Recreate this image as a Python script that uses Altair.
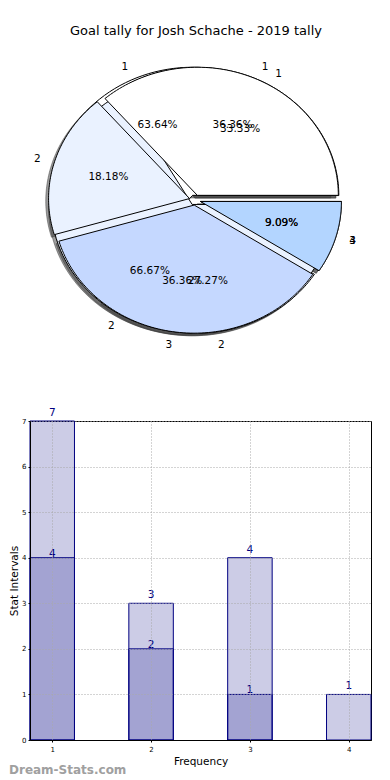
import altair as alt
import pandas as pd

TITLE = "Goal tally for Josh Schache - 2019 tally"

# pie data (three pies drawn on top of each other, pie 1 on top)
pie1_labels = ["1", "2", "3", "4"]
pie1_values = [4, 2, 4, 1]
pie2_labels = ["1", "2", "3"]
pie2_values = [7, 3, 1]
pie3_labels = ["1", "2"]
pie3_values = [1, 2]

# bar data
bar_x = [1, 2, 3, 4]
bar_outer = [7, 3, 4, 1]
bar_x_inner = [1, 2, 3]
bar_inner = [4, 2, 1]
x_ticks = [1, 2, 3, 4]
y_ticks = [0, 1, 2, 3, 4, 5, 6, 7]

x_title = "Frequency"
y_title = "Stat Intervals"
watermark = "Dream-Stats.com"

# style / layout
wedge_colors = ["#ffffff", "#eaf2ff", "#c5d8ff", "#b3d5ff"]
FONT = "DejaVu Sans"
PLOT_LEFT = 29
W = 370 - PLOT_LEFT
PIE_H = 380
BAR_H = 319
CX = 194 - PLOT_LEFT
CY = 199 - 8
RX, RY = 141.0, 128.1
EXPLODE = 0.04
NPTS = 90
BAR_W = 0.45

x_dom = [-CX / RX, (W - CX) / RX]
y_dom = [-(PIE_H - CY) / RY, CY / RY]
xs = alt.Scale(domain=x_dom, nice=False, zero=False)
ys = alt.Scale(domain=y_dom, nice=False, zero=False)
fill_scale = alt.Scale(domain=["1", "2", "3", "4"], range=wedge_colors)


def pie_base(labels, values):
    df = pd.DataFrame({"label": labels, "value": values})
    return (
        alt.Chart(df)
        .transform_joinaggregate(total="sum(value)")
        .transform_window(cum="sum(value)", sort=[alt.SortField("label", order="ascending")])
        .transform_calculate(a0="2 * PI * (datum.cum - datum.value) / datum.total")
        .transform_calculate(a1="2 * PI * datum.cum / datum.total")
        .transform_calculate(am="(datum.a0 + datum.a1) / 2")
        .transform_calculate(ex=f"{EXPLODE} * cos(datum.am)")
        .transform_calculate(ey=f"{EXPLODE} * sin(datum.am)")
        .transform_calculate(pct="format(100 * datum.value / datum.total, '.2f') + '%'")
    )


def wedge_points(base):
    return (
        base.transform_calculate(seq=f"sequence(0, {NPTS + 2})")
        .transform_flatten(["seq"])
        .transform_calculate(edge=f"datum.seq == 0 || datum.seq == {NPTS + 1}")
        .transform_calculate(ang=f"datum.a0 + (datum.a1 - datum.a0) * (datum.seq - 1) / {NPTS - 1}")
        .transform_calculate(px="datum.ex + (datum.edge ? 0 : cos(datum.ang))")
        .transform_calculate(py="datum.ey + (datum.edge ? 0 : sin(datum.ang))")
    )


def wedge_layer(base):
    return wedge_points(base).mark_line(stroke="black", strokeWidth=1).encode(
        x=alt.X("px:Q", scale=xs, axis=None),
        y=alt.Y("py:Q", scale=ys, axis=None),
        order=alt.Order("seq:Q"),
        fill=alt.Fill("label:N", scale=fill_scale, legend=None),
        detail="label:N",
    )


def shadow_layer(base):
    return (
        wedge_points(base)
        .transform_calculate(sx="datum.px - 0.02", sy="datum.py - 0.02")
        .mark_line(fill="#3c3c3c", fillOpacity=0.5, stroke="#3c3c3c", strokeOpacity=0.5, strokeWidth=1)
        .encode(
            x=alt.X("sx:Q", scale=xs, axis=None),
            y=alt.Y("sy:Q", scale=ys, axis=None),
            order=alt.Order("seq:Q"),
            detail="label:N",
        )
    )


def text_layers(base):
    b = (
        base.transform_calculate(tx="datum.ex + 1.1 * cos(datum.am)")
        .transform_calculate(ty="datum.ey + 1.1 * sin(datum.am)")
        .transform_calculate(qx="datum.ex + 0.6 * cos(datum.am)")
        .transform_calculate(qy="datum.ey + 0.6 * sin(datum.am)")
    )
    common = dict(font=FONT, fontSize=10.5, color="black", baseline="middle")
    right = b.transform_filter("datum.tx > 0").mark_text(align="left", **common).encode(
        x=alt.X("tx:Q", scale=xs, axis=None), y=alt.Y("ty:Q", scale=ys, axis=None), text="label:N")
    left = b.transform_filter("datum.tx <= 0").mark_text(align="right", **common).encode(
        x=alt.X("tx:Q", scale=xs, axis=None), y=alt.Y("ty:Q", scale=ys, axis=None), text="label:N")
    pct = b.mark_text(align="center", **common).encode(
        x=alt.X("qx:Q", scale=xs, axis=None), y=alt.Y("qy:Q", scale=ys, axis=None), text="pct:N")
    return [right, left, pct]


p1 = pie_base(pie1_labels, pie1_values)
p2 = pie_base(pie2_labels, pie2_values)
p3 = pie_base(pie3_labels, pie3_values)

title_mark = alt.Chart(pd.DataFrame({"t": [TITLE]})).mark_text(
    font=FONT, fontSize=13, color="black", align="center", baseline="middle"
).encode(x=alt.value(195 - PLOT_LEFT), y=alt.value(30 - 8), text="t:N")

pie = alt.layer(
    shadow_layer(p2), shadow_layer(p3), shadow_layer(p1),
    wedge_layer(p2), wedge_layer(p3), wedge_layer(p1),
    *text_layers(p2), *text_layers(p3), *text_layers(p1),
    title_mark,
).properties(width=W, height=PIE_H, view=alt.ViewBackground(stroke="transparent"))

# ---------------- bar chart ----------------
df_outer = pd.DataFrame({"cat": bar_x, "value": bar_outer})
df_inner = pd.DataFrame({"cat": bar_x_inner, "value": bar_inner})

bx = alt.Scale(domain=[min(bar_x) - BAR_W / 2, max(bar_x) + BAR_W / 2], nice=False, zero=False)
by = alt.Scale(domain=[0, 7], nice=False)

x_axis = alt.Axis(values=x_ticks, format="d", labelFontSize=7, labelFont=FONT, labelColor="black",
                  titleFont=FONT, titleFontSize=10.5, titleFontWeight="normal", titleColor="black",
                  grid=True, gridColor="#a8a8a8", gridDash=[1, 2], domainColor="black",
                  tickColor="black", tickSize=2, labelPadding=3, titlePadding=4, zindex=1)
y_axis = alt.Axis(values=y_ticks, format="d", labelFontSize=7, labelFont=FONT, labelColor="black",
                  titleFont=FONT, titleFontSize=10.5, titleFontWeight="normal", titleColor="black",
                  grid=True, gridColor="#a8a8a8", gridDash=[1, 2], domainColor="black",
                  tickColor="black", tickSize=2, labelPadding=2, titlePadding=2, zindex=1)


def bar_layer(df):
    return (
        alt.Chart(df)
        .transform_calculate(x0=f"datum.cat - {BAR_W / 2}", x1=f"datum.cat + {BAR_W / 2}", base="0")
        .mark_bar(fill="navy", fillOpacity=0.2, stroke="navy", strokeWidth=1)
        .encode(
            x=alt.X("x0:Q", scale=bx, axis=x_axis, title=x_title),
            x2="x1:Q",
            y=alt.Y("value:Q", scale=by, axis=y_axis, title=y_title),
            y2="base:Q",
        )
    )


def bar_text(df, dy):
    return alt.Chart(df).mark_text(
        color="navy", font=FONT, fontSize=10.5, baseline="alphabetic", align="center", dy=dy
    ).encode(
        x=alt.X("cat:Q", scale=bx, title=x_title),
        y=alt.Y("value:Q", scale=by, title=y_title),
        text="value:Q",
    )


wm = alt.Chart(pd.DataFrame({"t": [watermark]})).mark_text(
    font=FONT, fontSize=12, color="#a0a0a0", align="left", baseline="middle", fontWeight="bold"
).encode(x=alt.value(-(PLOT_LEFT - 8)), y=alt.value(BAR_H + 30), text="t:N")

bars = alt.layer(
    bar_layer(df_outer), bar_layer(df_inner), bar_text(df_outer, -5), bar_text(df_inner, -1), wm
).properties(width=W, height=BAR_H, view=alt.ViewBackground(stroke="black", strokeWidth=1))

chart = alt.vconcat(pie, bars, spacing=17).properties(
    padding={"left": 0, "top": 0, "right": 0, "bottom": 0}, background="white"
)

chart.save("out.html", embed_options={"renderer": "svg", "actions": False})
